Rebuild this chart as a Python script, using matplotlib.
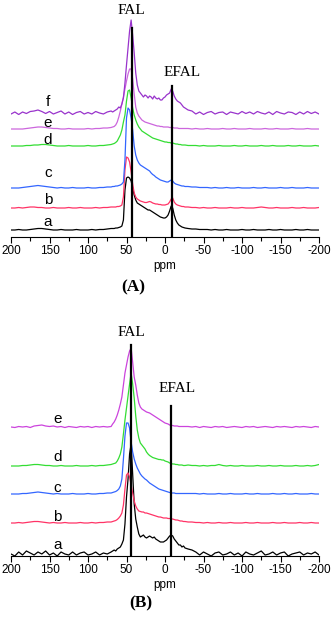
import numpy as np
import matplotlib
matplotlib.use("Agg")
import matplotlib.pyplot as plt

plt.rcParams['font.family'] = ['Liberation Sans', 'DejaVu Sans']
plt.rcParams['axes.unicode_minus'] = False

# chemical shift grid (ppm) the spectra were read at
ppm_left = [200, 195, 190, 185, 180, 175, 170, 165, 160, 155, 150, 145, 140, 135,
            130, 125, 120, 115, 110, 105, 100, 95, 90, 85, 80, 75, 70]
ppm_mid = [68, 66, 64, 62, 60, 58, 56, 54, 52, 50, 48, 46, 44, 42, 40, 38, 36, 34,
           32, 30, 28, 26, 24, 22, 20, 18, 16, 14, 12, 10, 8, 6, 4, 2, 0, -2, -4,
           -6, -8, -10, -12, -14, -16, -18, -20, -22, -24, -26]
ppm_right = [-30, -35, -40, -45, -50, -55, -60, -65, -70, -75, -80, -85, -90, -95,
             -100, -105, -110, -115, -120, -125, -130, -135, -140, -145, -150, -155,
             -160, -165, -170, -175, -180, -185, -190, -195, -200]

# panel A intensities (a.u.)
A_a = [0, 0, 0.5, 0, 0, 0.5, 1, 1.5, 1.5, 1, 0.5, 0, 0, 0.5, 0, 0, 0, 0.5, 0, 0, 0, 0.5, 0, 0.5, 0.5, 1, 1.5,
       1.5, 1.5, 2, 2, 2.5, 3, 4, 10, 40, 52, 53, 52, 49, 42, 35, 30, 27, 26, 25, 24,
       23, 22, 21, 20, 20, 19, 18, 17, 16, 15, 14, 13, 12.5, 12, 12, 13, 15, 19, 24, 22,
       15, 10, 7, 5, 4, 3, 2.5, 2,
       1.5, 1, 1, 0.5, 0.5, 0.5, 0, 0.5, 0, 0, 0.5, 0, 0, 0, 0.5, 0, 0, 0.5, 0, 0,
       0, 0.5, 0, 0, 0.5, 0, 0, 0, 0.5, 0, 0, 0.5, 0, 0, 0]
A_b = [0, 0, 0.5, 0, 0.5, 1, 1, 0.5, 0.5, 0, 0, 0.5, 0, 0, 0, 0.5, 0, 0, 0.5, 0, 0, 0, 0.5, 0, 0.5, 0.5, 1,
       1, 1, 1, 1.5, 1.5, 2, 3, 11, 38, 51, 50, 46, 36, 24, 15, 11, 9, 8, 7, 6.5,
       6, 5.5, 5.5, 6, 6.5, 6, 5, 4.5, 4, 4, 3.5, 3.5, 3, 3, 3, 3.5, 4, 6, 9, 10,
       6, 4, 3, 2.5, 2, 1.5, 1.5, 1,
       1, 0.5, 0.5, 0, 0.5, 0, 0, 0.5, 0, 0, 0, 0.5, 0, 0, 0.5, 0, 0, 0, 0.5, 1,
       0.5, 0, 0, 0.5, 0, 0, 0, 0.5, 0, 0, 0.5, 0, 0, 0, 0.5]
A_c = [0, 0, 0, 0.5, 1, 1.5, 2, 2.5, 2, 1.5, 1, 0.5, 0, 0.5, 0, 0, 0.5, 0, 0, 0, 0.5, 0, 0, 0.5, 0.5, 1, 1,
       1.5, 1.5, 2, 2, 2.5, 3, 4, 6, 28, 70, 80, 78, 70, 58, 42, 33, 28, 25, 23, 22,
       21, 20, 19, 18, 17, 15, 13.5, 12.5, 11, 10, 9, 8, 7.5, 7, 6.5, 6, 6, 7, 8, 7,
       5, 4, 3.5, 3, 2.5, 2, 2, 1.5,
       1.5, 1, 1, 0.5, 0.5, 0.5, 0, 0.5, 0, 0, 0.5, 0, 0, 0.5, 0, 0, 0, 0.5, 0, 0,
       0.5, 0, 0, 0, 0.5, 0, 0, 0.5, 0, 0, 0, 0.5, 0, 0, 0]
A_d = [0, 0, 0, 0, 0.5, 0.5, 1, 1, 1.5, 1.5, 1, 0.5, 0, 0, 0, 0.5, 0, 0, 0, 0, 0.5, 0, 0, 0.5, 0.5, 1, 1.5,
       2, 2.5, 3.5, 5, 8, 11, 16, 24, 31, 45, 55, 56, 48, 38, 31, 26, 22, 19, 17, 15,
       14, 13, 12, 11, 10, 9, 8, 7.5, 7, 6.5, 6, 5.5, 5, 4.5, 4, 4, 3.5, 3.5, 3, 3,
       2.5, 2, 2, 1.5, 1.5, 1, 1, 1,
       0.5, 0.5, 0.5, 0, 0.5, 0, 0, 0, 0.5, 0, 0, 0, 0.5, 0, 0, 0.5, 0, 0, 0, 0.5,
       0, 0, 0.5, 0, 0, 0, 0.5, 0, 0, 0.5, 0, 0, 0, 0.5, 0]
A_e = [0, 0, 0, 0, 0.5, 1, 1.5, 2, 2, 1.5, 1, 0.5, 0.5, 0, 0, 0.5, 0, 0, 0, 0, 0.5, 0, 0.5, 0.5, 1, 1, 1.5,
       2, 2.5, 4, 7, 12, 18, 25, 32, 40, 48, 55, 60, 60, 50, 35, 22, 16, 13, 11, 9,
       8, 7, 6.5, 6, 5.5, 5, 4.5, 4, 3.5, 3, 3, 2.5, 2.5, 2, 2, 2, 2, 1.5, 1.5, 1.5,
       1, 1, 1, 0.5, 0.5, 0.5, 0.5, 0.5,
       0.5, 0, 0.5, 0, 0, 0.5, 0, 0, 0, 0.5, 0, 0, 0.5, 0, 0, 0, 0.5, 0, 0, 0,
       0.5, 0, 0, 0.5, 0, 0, 0, 0.5, 0, 0, 0, 0.5, 0, 0, 0]
A_f = [-1, 1, -1.5, 1, -0.5, 1.5, 2, 3, 1.5, -0.5, 1.5, -1, 0.5, 2, -1, 1, -1.5, 0.5, 1.5, -1, 0.5, -1, 1.5, 0, -1, 1, 2,
       1, 2, 3, 4, 6, 5, 9, 15, 30, 48, 65, 82, 93, 78, 60, 40, 28, 22, 20, 18,
       16, 18, 17, 15, 17, 16, 14, 17, 15, 14, 15, 13, 13, 15, 16, 18, 19, 20, 24, 22,
       17, 14, 12, 11, 10, 8, 6, 5,
       3, 2, -1, 1, -1.5, 0.5, 1.5, -1, 0.5, 1, -1.5, 1, 0, -1, 1.5, -0.5, 1, -1, 1.5, 0,
       -1, 1, -1.5, 1.5, 0, -1, 1, 0.5, -1.5, 1, -1, 1.5, -0.5, 1, -1]

# panel B intensities (a.u.)
B_a = [0, -2, 2, -1, 3, 1, -1, 2, 0, 3, -1, 1, -2, 2, 0, -1, 2, -1, 1, 2, -1, 0, 2, -1, 1, 0, 2,
       3, 4, 3, 5, 6, 7, 10, 14, 30, 57, 75, 100, 110, 80, 50, 35, 27, 20, 17, 18,
       19, 17, 16, 17, 18, 17, 16, 17, 15, 14, 13, 12, 12, 12, 13, 14, 16, 18, 19, 18,
       15, 13, 11, 9, 9, 7, 8, 6,
       5, 4, 2, -1, 2, 0, -2, 1, 2, -1, 0, 2, -1, 1, -2, 2, 0, -1, 1, 3,
       -1, 0, 2, -1, 1, 2, -2, 0, 1, 2, -1, 1, 0, 2, -1]
B_b = [0, 0, 0.5, 0, 0.5, 1, 1.5, 1.5, 1, 0.5, 0, 0.5, 0, 0, 0.5, 0, 0, 0, 0.5, 0, 0, 0.5, 0, 0.5, 0.5, 1, 1,
       1.5, 2, 2.5, 3.5, 5, 7, 10, 18, 34, 48, 50, 46, 38, 30, 22, 17, 14, 12, 11.5, 11,
       11, 10, 10, 9.5, 9, 8.5, 8, 7.5, 7, 6.5, 6, 6, 5.5, 5, 5, 5, 4.5, 4.5, 4, 4,
       3.5, 3, 3, 2.5, 2, 2, 1.5, 1.5,
       1, 1, 0.5, 0.5, 0, 0.5, 0, 0, 0.5, 0, 0, 0.5, 0, 0, 0, 0.5, 0, 0, 0.5, 0,
       0, 0, 0.5, 0, 0, 0.5, 0, 0, 0, 0.5, 0, 0, 0.5, 0, 0]
B_c = [0, 0, 0, 0.5, 0.5, 1, 1.5, 2, 1.5, 1, 0.5, 0, 0.5, 0, 0, 0, 0.5, 0, 0, 0, 0.5, 0, 0, 0.5, 0.5, 1, 1,
       1.5, 2, 2.5, 3.5, 5, 8, 15, 35, 58, 71, 71, 66, 52, 42, 35, 30, 26, 23, 20, 18,
       16.5, 15, 14, 12.5, 11, 10, 9, 8, 7, 6, 5, 4.5, 4, 3.5, 3, 2.5, 2, 1.5, 1, 1,
       1, 0.5, 0.5, 0.5, 0.5, 0.5, 0.5, 0.5,
       0.5, 0.5, 0.5, 0, 0.5, 0, 0, 0, 0.5, 0, 0, 0.5, 0, 0, 0, 0.5, 0, 0, 0.5, 0,
       0, 0, 0.5, 0, 0, 0.5, 0, 0, 0.5, 0, 0, 0, 0.5, 0, 0]
B_d = [0, 0, 0, 0.5, 0.5, 1, 1.5, 1.5, 1, 0.5, 0.5, 0, 0, 0.5, 0, 0, 0, 0.5, 0, 0, 0, 0.5, 0, 0.5, 0.5, 1, 1.5,
       2, 2.5, 3, 5, 8, 12, 19, 32, 46, 58, 70, 82, 93, 82, 68, 50, 36, 28, 23, 21,
       19, 17, 14, 12, 10.5, 9.5, 8.5, 8, 7.5, 7, 6.5, 6.5, 6, 6, 5, 4.5, 4, 3, 2.5, 2,
       2, 1.5, 1.5, 1, 1, 1, 0.5, 0.5,
       1, 0.5, 0.5, 0, 0.5, 0, 0.5, 0.5, 1.5, 0.5, 0, 0.5, 0, 0, 0.5, 0, 0, 0, 0.5, 0,
       0, 0.5, 0, 0, 0.5, 0, 0, 0, 0.5, 0, 0, 0.5, 0, 0.5, 1.5]
B_e = [0, -0.5, 0.5, 0, 0.5, -0.5, 1, 1.5, 2, 1, 0.5, 1, 0, 0.5, -0.5, 0.5, 0, -0.5, 0.5, 0, 0.5, -0.5, 0.5, 0, 0.5, 0, 0.5,
       3, 5, 8, 12, 17, 23, 30, 42, 54, 62, 70, 76, 79, 65, 50, 42, 32, 24, 20, 18,
       17, 16, 15, 14.5, 14, 13, 12, 11, 10, 9, 8, 7, 6, 5, 4, 3.5, 3, 2, 1.5, 1.5,
       1, 1, 1, 0.5, 0.5, 0.5, 0.5, 0.5,
       0.5, 0, 0.5, -0.5, 0.5, 0, -0.5, 0.5, 0, 0.5, -0.5, 0, 0.5, 0, -0.5, 0.5, 0, 0.5, -0.5, 0,
       0.5, 0, -0.5, 0.5, 0, 0.5, 0, -0.5, 0.5, 0, 0.5, 0, -0.5, 0.5, 0]

labels_A = ['a', 'b', 'c', 'd', 'e', 'f']
labels_B = ['a', 'b', 'c', 'd', 'e']
fal_ppm = [43, 44]
efal_ppm = [-9, -8]

ppm = np.array(ppm_left + ppm_mid + ppm_right)

fig = plt.figure(figsize=(3.33, 6.2), dpi=100)
W, H = 333.0, 620.0


def draw_panel(rect, traces, labels, colors, offsets, label_x, label_y, ytop,
               fal, efal, fal_top, efal_top, fal_text, efal_text):
    ax = fig.add_axes(rect)
    for vals, col, off in zip(traces, colors, offsets):
        ax.plot(ppm, np.array(vals) + off, color=col, lw=0.9)
    for lab, ly in zip(labels, label_y):
        ax.text(label_x, ly, lab, fontsize=11, ha='center', va='center')
    ax.plot([fal, fal], [0, fal_top], color='black', lw=1.6, zorder=5)
    ax.plot([efal, efal], [0, efal_top], color='black', lw=1.6, zorder=5)
    ax.text(fal_text[0], fal_text[1], 'FAL', family='Liberation Serif',
            fontsize=11, ha='center', va='center')
    ax.text(efal_text[0], efal_text[1], 'EFAL', family='Liberation Serif',
            fontsize=11, ha='center', va='center')
    ax.set_xlim(200, -200)
    ax.set_ylim(0, ytop)
    ax.set_xticks(range(200, -201, -50))
    ax.set_xticks(range(200, -201, -25), minor=True)
    ax.set_yticks([])
    for s in ['left', 'right', 'top']:
        ax.spines[s].set_visible(False)
    ax.spines['bottom'].set_linewidth(0.8)
    ax.tick_params(axis='x', which='major', length=4, width=0.8, pad=2, labelsize=8.5)
    ax.tick_params(axis='x', which='minor', length=3, width=0.8)
    ax.set_xlabel('ppm', fontsize=8.5, labelpad=2)
    ax.patch.set_alpha(0)
    return ax


colors_A = ['black', '#ff3366', '#3366ff', '#33dd33', '#cc66dd', '#9933cc']
colors_B = ['black', '#ff3366', '#3366ff', '#33dd33', '#cc44dd']

draw_panel([11 / W, 1 - 237 / H, 308 / W, 237 / H],
           [A_a, A_b, A_c, A_d, A_e, A_f], labels_A, colors_A,
           [7, 29, 49, 91, 108, 124], 152, [15, 37, 64, 97, 114, 135], 237,
           fal_ppm[0], efal_ppm[0], 209, 151, (43, 227), (-22, 164))

draw_panel([11 / W, 1 - 556 / H, 308 / W, 236 / H],
           [B_a, B_b, B_c, B_d, B_e], labels_B, colors_B,
           [2, 33, 62, 90, 129], 140, [11, 39, 68, 99, 137], 236,
           fal_ppm[1], efal_ppm[1], 211, 150, (43, 224), (-16, 167))

fig.text(133 / W, 1 - 287 / H, '(A)', family='Liberation Serif', weight='bold',
         fontsize=12.5, ha='center', va='center')
fig.text(141 / W, 1 - 603 / H, '(B)', family='Liberation Serif', weight='bold',
         fontsize=12.5, ha='center', va='center')

fig.savefig('out.png', dpi=100)
